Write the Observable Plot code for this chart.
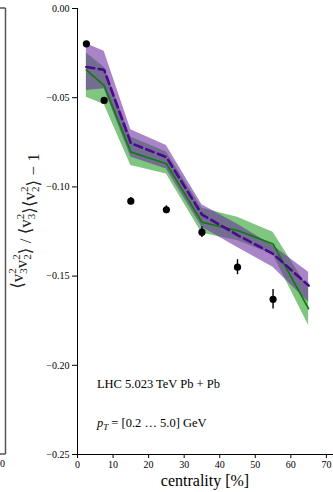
<!DOCTYPE html>
<html>
<head>
<meta charset="utf-8">
<script src="https://cdn.jsdelivr.net/npm/d3@7"></script>
<script src="https://cdn.jsdelivr.net/npm/@observablehq/plot@0.6"></script>
<style>
  html, body { margin: 0; padding: 0; background: #fff; }
  #chart { width: 333px; height: 492px; overflow: hidden; }
</style>
</head>
<body>
<div id="chart"></div>
<script>
// ---- data ----
const centrality = [2.5, 7.5, 15, 25, 35, 45, 55, 65];

// purple (dashed) model band
const purpleMid = [-0.0328, -0.0344, -0.0755, -0.0833, -0.1155, -0.1270, -0.1375, -0.1553];
const purpleHi  = [-0.0198, -0.0239, -0.0680, -0.0768, -0.1100, -0.1210, -0.1330, -0.1478];
const purpleLo  = [-0.0460, -0.0450, -0.0833, -0.0900, -0.1226, -0.1340, -0.1450, -0.1646];

// green (solid) model band
const greenMid = [-0.0344, -0.0432, -0.0805, -0.0870, -0.1198, -0.1245, -0.1320, -0.1683];
const greenHi  = [-0.0250, -0.0330, -0.0720, -0.0805, -0.1120, -0.1170, -0.1254, -0.1570];
const greenLo  = [-0.0497, -0.0538, -0.0880, -0.0927, -0.1260, -0.1300, -0.1380, -0.1777];

// measured points
const dataCent = [2.5, 7.5, 15, 25, 35, 45, 55];
const dataVal  = [-0.0198, -0.0515, -0.1080, -0.1128, -0.1254, -0.1450, -0.1630];
const dataErr  = [0.0012, 0.0015, 0.0020, 0.0022, 0.0030, 0.0042, 0.0055];

const xTicks = [0, 10, 20, 30, 40, 50, 60, 70];
const yTicks = [0, -0.05, -0.10, -0.15, -0.20, -0.25];

const bandIdx = d3.range(centrality.length);
const ptIdx = d3.range(dataCent.length);
const serif = "'Liberation Serif', 'DejaVu Serif', serif";

const plot = Plot.plot({
  width: 333,
  height: 492,
  marginLeft: 77,
  marginRight: 0,
  marginTop: 8,
  marginBottom: 38,
  style: { fontFamily: serif, fontSize: "10px", color: "black", background: "white", overflow: "visible" },
  x: { domain: [0, 72] },
  y: { domain: [-0.25, 0] },
  marks: [
    Plot.areaY(bandIdx, { x: i => centrality[i], y1: i => greenLo[i], y2: i => greenHi[i], fill: "#2ca02c", fillOpacity: 0.6 }),
    Plot.areaY(bandIdx, { x: i => centrality[i], y1: i => purpleLo[i], y2: i => purpleHi[i], fill: "#6a2c9e", fillOpacity: 0.58 }),
    Plot.lineY(bandIdx, { x: i => centrality[i], y: i => greenMid[i], stroke: "#0a7d0a", strokeWidth: 1.6 }),
    Plot.lineY(bandIdx, { x: i => centrality[i], y: i => purpleMid[i], stroke: "#4b0a8c", strokeWidth: 2.6, strokeDasharray: "8,4.5" }),
    Plot.ruleX(ptIdx, { x: i => dataCent[i], y1: i => dataVal[i] - dataErr[i], y2: i => dataVal[i] + dataErr[i], stroke: "black", strokeWidth: 1.4 }),
    Plot.dot(ptIdx, { x: i => dataCent[i], y: i => dataVal[i], r: 3.6, fill: "black", stroke: "none" }),
    Plot.ruleX([0], { stroke: "black", strokeWidth: 1 }),
    Plot.ruleY([-0.25], { stroke: "black", strokeWidth: 1 }),
    Plot.axisY({ ticks: yTicks, tickFormat: d3.format(".2f"), tickSize: 5, tickPadding: 3, label: null, fontSize: 10 }),
    Plot.axisX({ ticks: xTicks, tickFormat: d3.format("d"), tickSize: 4, tickPadding: 2, label: null, fontSize: 10 })
  ]
});

document.getElementById("chart").appendChild(plot);

const svg = d3.select(plot);
const xs = plot.scale("x"), ys = plot.scale("y");
const X = v => xs.apply(v), Y = v => ys.apply(v);

// fragment of the neighbouring panel on the left
const ng = svg.append("g").attr("stroke", "#555").attr("stroke-width", 1.5).attr("fill", "none");
ng.append("line").attr("x1", 5.5).attr("x2", 5.5).attr("y1", Y(0)).attr("y2", Y(-0.25));
ng.append("line").attr("x1", -1).attr("x2", 5.5).attr("y1", Y(0)).attr("y2", Y(0));
ng.append("line").attr("x1", -1).attr("x2", 5.5).attr("y1", Y(-0.25)).attr("y2", Y(-0.25));
svg.append("text").attr("x", 0).attr("y", Y(-0.25) + 13).attr("text-anchor", "start")
  .attr("font-family", serif).attr("font-size", 10).attr("fill", "black").text("0");

// annotations
svg.append("text").attr("x", X(5.6)).attr("y", Y(-0.2108)).attr("dy", "0.35em")
  .attr("text-anchor", "start")
  .attr("font-family", serif).attr("font-size", 12.5).attr("fill", "black")
  .text("LHC 5.023 TeV Pb + Pb");

const pt = svg.append("text").attr("x", X(5.6)).attr("y", Y(-0.2326)).attr("dy", "0.35em")
  .attr("text-anchor", "start")
  .attr("font-family", serif).attr("font-size", 12.5).attr("fill", "black");
pt.append("tspan").attr("font-style", "italic").text("p");
pt.append("tspan").attr("font-style", "italic").attr("font-size", 9).attr("dy", 3).text("T");
pt.append("tspan").attr("dy", -3).text(" = [0.2 … 5.0] GeV");

// x label
svg.append("text").attr("x", (X(0) + 333) / 2).attr("y", 480).attr("dy", "0.35em")
  .attr("text-anchor", "middle").attr("font-family", serif).attr("font-size", 16).attr("fill", "black")
  .text("centrality [%]");

// y label with stacked sub/superscripts
const yl = svg.append("text").attr("transform", "translate(23,221) rotate(-90)")
  .attr("text-anchor", "middle").attr("font-family", serif).attr("font-size", 17).attr("fill", "#222");
function vTerm(sub) {
  yl.append("tspan").text("v");
  yl.append("tspan").attr("font-size", 11).attr("dy", -7).text("2");
  yl.append("tspan").attr("font-size", 11).attr("dx", -5.5).attr("dy", 11).text(sub);
  yl.append("tspan").attr("dy", -4).text("");
}
yl.append("tspan").text("⟨");
vTerm("3"); vTerm("2");
yl.append("tspan").text("⟩ / ⟨");
vTerm("3");
yl.append("tspan").text("⟩⟨");
vTerm("2");
yl.append("tspan").text("⟩ − 1");
</script>
</body>
</html>
